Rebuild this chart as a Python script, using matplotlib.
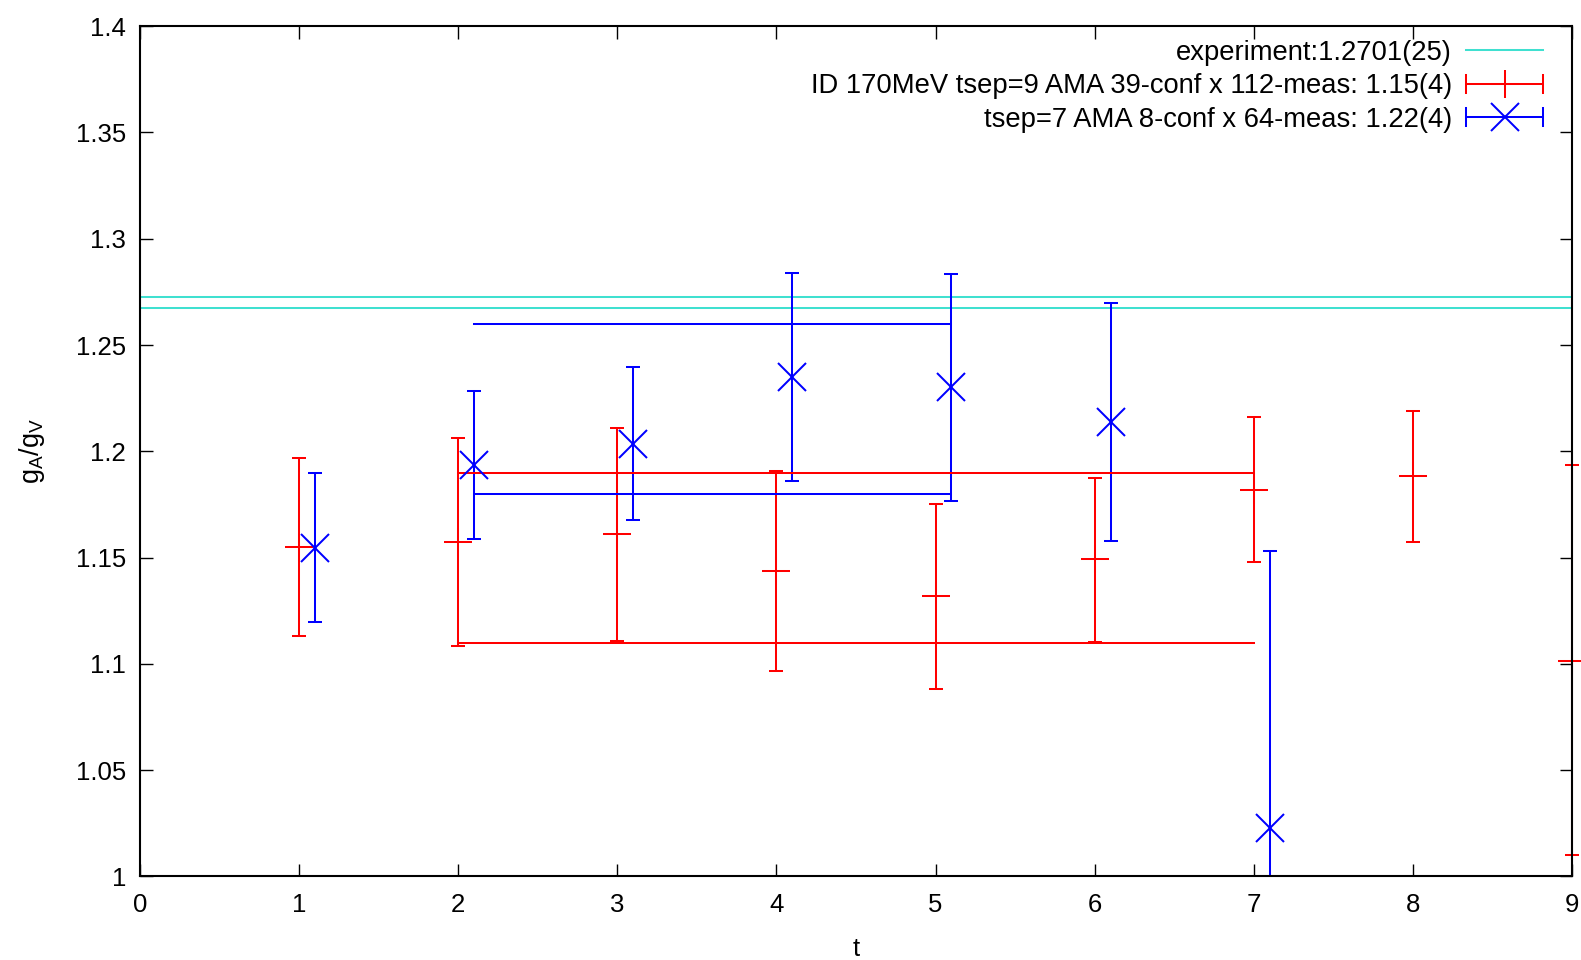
import matplotlib
matplotlib.use('Agg')
import matplotlib.pyplot as plt
from matplotlib.lines import Line2D
from matplotlib.legend_handler import HandlerBase

plt.rcParams['font.family'] = ['Liberation Sans', 'DejaVu Sans']
plt.rcParams['mathtext.fontset'] = 'custom'
plt.rcParams['mathtext.rm'] = 'Liberation Sans'

# experiment
exp_val = 1.2701
exp_err = 0.0025

# tsep=9 (red)
t9 = [1, 2, 3, 4, 5, 6, 7, 8, 9]
v9 = [1.155, 1.1575, 1.161, 1.1438, 1.132, 1.1493, 1.182, 1.1882, 1.1015]
e9_lo = [0.042, 0.049, 0.050, 0.047, 0.044, 0.039, 0.034, 0.031, 0.0915]
e9_hi = [0.042, 0.049, 0.050, 0.047, 0.043, 0.038, 0.034, 0.031, 0.092]
fit9 = [1.15, 0.04]
fit9_range = [2, 7]

# tsep=7 (blue)
t7 = [1.1, 2.1, 3.1, 4.1, 5.1, 6.1, 7.1]
v7 = [1.1547, 1.1936, 1.2036, 1.2349, 1.2301, 1.214, 1.0228]
e7 = [0.035, 0.035, 0.036, 0.049, 0.0535, 0.056, 0.1305]
fit7 = [1.22, 0.04]
fit7_range = [2.1, 5.1]

labels = ['experiment:1.2701(25)',
          'ID 170MeV tsep=9 AMA 39-conf x 112-meas: 1.15(4)',
          'tsep=7 AMA 8-conf x 64-meas: 1.22(4)']

LW = 1.45
FS = 18.5
FS_KEY = 19.7


class HandlerGnuErr(HandlerBase):
    # gnuplot style key sample: horizontal bar with end caps and the point symbol
    def create_artists(self, legend, orig_handle, xdescent, ydescent, width, height, fontsize, trans):
        c = orig_handle.get_color()
        y = height / 2 - ydescent
        x0, x1 = -xdescent, width - xdescent
        h = 6.5
        arts = [Line2D([x0, x1], [y, y], color=c, lw=LW, transform=trans),
                Line2D([x0, x0], [y - h, y + h], color=c, lw=LW, transform=trans),
                Line2D([x1, x1], [y - h, y + h], color=c, lw=LW, transform=trans),
                Line2D([(x0 + x1) / 2], [y], color=c, marker=orig_handle.get_marker(),
                       ms=orig_handle.get_markersize(), mew=LW, ls='none', transform=trans)]
        return arts


def main():
    fig = plt.figure(figsize=(15.81, 9.6), dpi=100)
    ax = fig.add_axes([0.0886, 0.087, 0.9057, 0.8857])

    ax.axhline(exp_val + exp_err, color='#40e0d0', lw=LW)
    ax.axhline(exp_val - exp_err, color='#40e0d0', lw=LW)

    eb9 = ax.errorbar(t9, v9, yerr=[e9_lo, e9_hi], fmt='+', color='red', ms=19.5, mew=LW,
                      elinewidth=LW, capsize=4.8, capthick=LW)
    for a in eb9.lines[0:1] + tuple(eb9.lines[1]) + tuple(eb9.lines[2]):
        a.set_clip_on(False)
    ax.errorbar(t7, v7, yerr=e7, fmt='x', color='blue', ms=19.5, mew=LW,
                elinewidth=LW, capsize=5, capthick=LW)

    for f, r, c in [(fit9, fit9_range, 'red'), (fit7, fit7_range, 'blue')]:
        ax.plot(r, [f[0] + f[1]] * 2, color=c, lw=LW)
        ax.plot(r, [f[0] - f[1]] * 2, color=c, lw=LW)

    ax.set_xlim(0, 9)
    ax.set_ylim(1.0, 1.4)
    ax.set_xticks(range(10))
    ax.set_yticks([1, 1.05, 1.1, 1.15, 1.2, 1.25, 1.3, 1.35, 1.4])
    ax.set_yticklabels(['1', '1.05', '1.1', '1.15', '1.2', '1.25', '1.3', '1.35', '1.4'])
    ax.tick_params(direction='in', length=9, width=1, top=True, right=True,
                   labelsize=FS)
    ax.tick_params(axis='y', pad=10)
    ax.tick_params(axis='x', pad=12)
    for s in ax.spines.values():
        s.set_linewidth(1.5)

    ax.set_xlabel('t', fontsize=FS, labelpad=14)
    ax.set_ylabel(r'$\mathregular{g_A/g_V}$', fontsize=FS + 1, labelpad=21)

    h_exp = Line2D([], [], color='#40e0d0', lw=LW)
    h9 = Line2D([], [], color='red', marker='+', ms=19.5)
    h7 = Line2D([], [], color='blue', marker='x', ms=19.5)
    ax.legend([h_exp, h9, h7], labels, loc='upper right', frameon=False,
              bbox_to_anchor=(0.9798, 0.984), borderaxespad=0, borderpad=0,
              markerfirst=False, fontsize=FS_KEY, handlelength=2.8, handletextpad=0.52,
              labelspacing=0.27,
              handler_map={h9: HandlerGnuErr(), h7: HandlerGnuErr()})

    fig.savefig('out.png', dpi=100)


if __name__ == '__main__':
    main()
